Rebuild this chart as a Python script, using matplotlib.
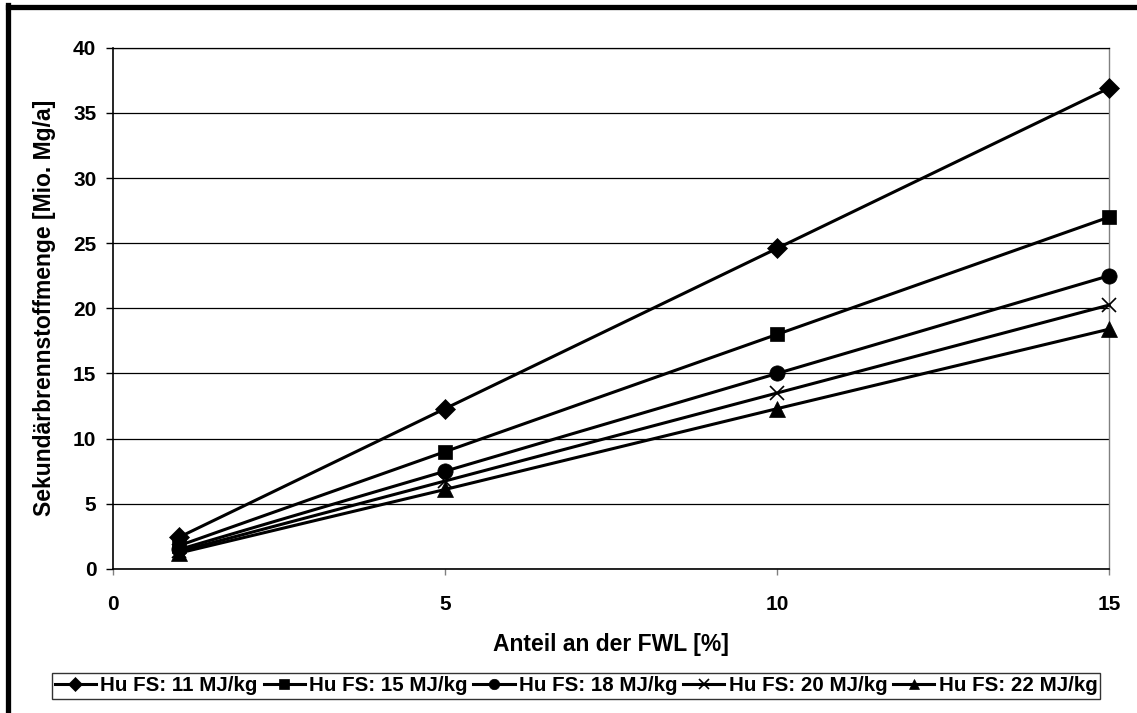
import matplotlib
matplotlib.use("Agg")
import matplotlib.pyplot as plt
from matplotlib.lines import Line2D

plt.rcParams['font.family'] = ['Liberation Sans', 'DejaVu Sans']
plt.rcParams['font.weight'] = 'bold'

# Anteil an der FWL [%]
anteil = [1, 5, 10, 15]

# Sekundaerbrennstoffmenge [Mio. Mg/a] je Heizwert
hu11 = [2.45, 12.3, 24.6, 36.9]
hu15 = [1.8, 9.0, 18.0, 27.0]
hu18 = [1.5, 7.5, 15.0, 22.5]
hu20 = [1.35, 6.75, 13.5, 20.25]
hu22 = [1.23, 6.1, 12.3, 18.4]

labels = ["Hu FS: 11 MJ/kg", "Hu FS: 15 MJ/kg", "Hu FS: 18 MJ/kg",
          "Hu FS: 20 MJ/kg", "Hu FS: 22 MJ/kg"]

fig = plt.figure(figsize=(11.37, 7.13), dpi=100)
ax = fig.add_axes([0.0994, 0.2020, 0.8760, 0.7311])

reihen = [hu11, hu15, hu18, hu20, hu22]
marker = ['D', 's', 'o', 'x', '^']
msize = [10, 10, 11, 10, 11]
for werte, m, ms, lab in zip(reihen, marker, msize, labels):
    ax.plot(anteil, werte, color='black', lw=2.2, marker=m, markersize=ms,
            markeredgewidth=1.2 if m == 'x' else 0.5, label=lab,
            clip_on=False, zorder=3)

ax.set_xlim(0, 15)
ax.set_ylim(0, 40)
ax.set_xticks([0, 5, 10, 15])
ax.set_yticks(range(0, 41, 5))
ax.tick_params(axis='y', direction='out', length=5, width=1, labelsize=15, pad=7)
ax.tick_params(axis='x', direction='out', length=4.5, width=1, color='#808080',
               labelsize=15, pad=14)
ax.yaxis.grid(True, color='black', lw=0.9)
ax.set_axisbelow(True)

for s in ['left', 'bottom']:
    ax.spines[s].set_linewidth(1.2)
ax.spines['top'].set_linewidth(0.9)
ax.spines['right'].set_color('#808080')
ax.spines['right'].set_linewidth(1)

ax.set_xlabel("Anteil an der FWL [%]", fontsize=16.5, fontweight='bold', labelpad=14)
ax.set_ylabel("Sekundärbrennstoffmenge [Mio. Mg/a]", fontsize=16.5,
              fontweight='bold', labelpad=12)

leg = fig.legend(loc='center', bbox_to_anchor=(0.5066, 0.0379), ncol=5,
                 fontsize=14.8, frameon=True, fancybox=False, handlelength=2.0,
                 handletextpad=0.2, columnspacing=0.3, borderpad=0.15,
                 borderaxespad=0)
leg.get_frame().set_edgecolor('black')
leg.get_frame().set_linewidth(1)
for h in leg.legend_handles:
    h.set_markersize(7.5)

# Rahmen links und oben
fig.add_artist(Line2D([0.0066, 0.0066], [0, 0.9930], color='black', lw=3.8,
                      transform=fig.transFigure, solid_capstyle='projecting'))
fig.add_artist(Line2D([0.0066, 1.0], [0.9895, 0.9895], color='black', lw=3.8,
                      transform=fig.transFigure, solid_capstyle='projecting'))

fig.savefig("out.png", dpi=100)
